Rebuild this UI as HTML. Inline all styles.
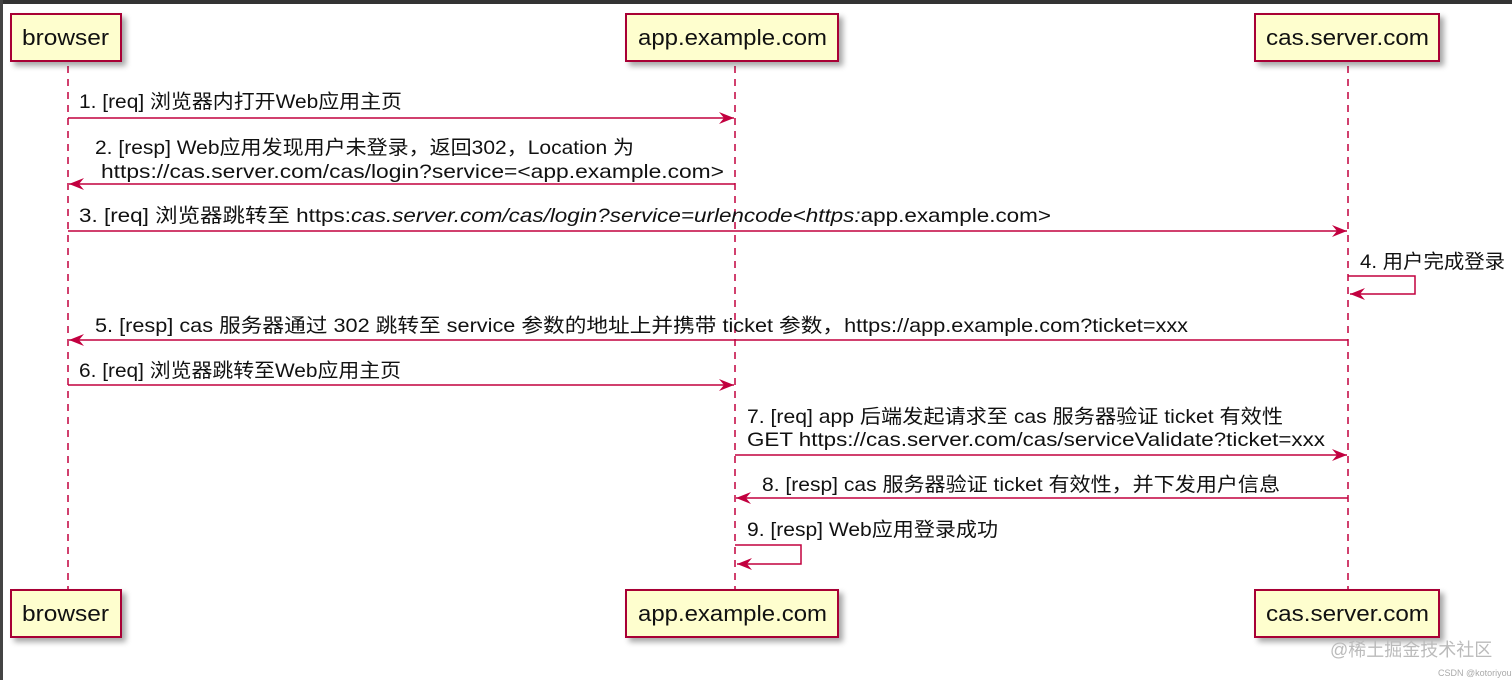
<!DOCTYPE html>
<html><head><meta charset="utf-8"><style>
html,body{margin:0;padding:0;background:#fff;}
svg{display:block}
text{font-family:"Liberation Sans","Noto Sans CJK SC",sans-serif;font-size:19.5px;fill:#111;}
.b{font-size:22px}
</style></head><body>
<svg width="1512" height="680" viewBox="0 0 1512 680">
<defs>
<filter id="sh" x="-20%" y="-20%" width="150%" height="160%"><feGaussianBlur in="SourceAlpha" stdDeviation="3"/><feOffset dx="4" dy="4"/><feComponentTransfer><feFuncA type="linear" slope="0.35"/></feComponentTransfer><feMerge><feMergeNode/><feMergeNode in="SourceGraphic"/></feMerge></filter>
<marker id="ar" markerWidth="16" markerHeight="12" refX="15" refY="6" orient="auto" markerUnits="userSpaceOnUse"><path d="M0,0 L15,6 L0,12 L5,6 Z" fill="#C2003F"/></marker>
</defs>
<rect x="0" y="0" width="1512" height="4" fill="#333"/>
<rect x="0" y="0" width="3" height="680" fill="#444"/>
<g stroke="#C2003F" stroke-width="1.5" stroke-dasharray="7,6">
<line x1="68" y1="66" x2="68" y2="590"/>
<line x1="735" y1="66" x2="735" y2="590"/>
<line x1="1348" y1="66" x2="1348" y2="590"/>
</g>
<g fill="#FEFECE" stroke="#A80036" stroke-width="2" filter="url(#sh)">
<rect x="11" y="14" width="110" height="47"/>
<rect x="626" y="14" width="212" height="47"/>
<rect x="1255" y="14" width="184" height="47"/>
<rect x="11" y="590" width="110" height="47"/>
<rect x="626" y="590" width="212" height="47"/>
<rect x="1255" y="590" width="184" height="47"/>
</g>
<text x="22" y="45" class="b" textLength="87" lengthAdjust="spacingAndGlyphs">browser</text>
<text x="638" y="45" class="b" textLength="189" lengthAdjust="spacingAndGlyphs">app.example.com</text>
<text x="1266" y="45" class="b" textLength="163" lengthAdjust="spacingAndGlyphs">cas.server.com</text>
<text x="22" y="621" class="b" textLength="87" lengthAdjust="spacingAndGlyphs">browser</text>
<text x="638" y="621" class="b" textLength="189" lengthAdjust="spacingAndGlyphs">app.example.com</text>
<text x="1266" y="621" class="b" textLength="163" lengthAdjust="spacingAndGlyphs">cas.server.com</text>
<g stroke="#C2003F" stroke-width="1.5" fill="none" marker-end="url(#ar)">
<line x1="68" y1="118" x2="734" y2="118"/>
<line x1="735" y1="184" x2="69" y2="184"/>
<line x1="68" y1="231" x2="1347" y2="231"/>
<polyline points="1348,276 1415,276 1415,294 1350,294"/>
<line x1="1348" y1="340" x2="69" y2="340"/>
<line x1="68" y1="385" x2="734" y2="385"/>
<line x1="735" y1="455" x2="1347" y2="455"/>
<line x1="1348" y1="498" x2="736" y2="498"/>
<polyline points="735,545 801,545 801,564 737,564"/>
</g>
<text x="79" y="108" textLength="323" lengthAdjust="spacingAndGlyphs">1. [req] 浏览器内打开Web应用主页</text>
<text x="95" y="154" textLength="539" lengthAdjust="spacingAndGlyphs">2. [resp] Web应用发现用户未登录，返回302，Location 为</text>
<text x="101" y="178" textLength="623" lengthAdjust="spacingAndGlyphs">https://cas.server.com/cas/login?service=&lt;app.example.com&gt;</text>
<text x="79" y="222" textLength="972" lengthAdjust="spacingAndGlyphs">3. [req] 浏览器跳转至 https:<tspan font-style="italic">cas.server.com/cas/login?service=urlencode&lt;https:</tspan>app.example.com&gt;</text>
<text x="1360" y="268" textLength="145" lengthAdjust="spacingAndGlyphs">4. 用户完成登录</text>
<text x="95" y="332" textLength="1093" lengthAdjust="spacingAndGlyphs">5. [resp] cas 服务器通过 302 跳转至 service 参数的地址上并携带 ticket 参数，https://app.example.com?ticket=xxx</text>
<text x="79" y="377" textLength="322" lengthAdjust="spacingAndGlyphs">6. [req] 浏览器跳转至Web应用主页</text>
<text x="747" y="423" textLength="536" lengthAdjust="spacingAndGlyphs">7. [req] app 后端发起请求至 cas 服务器验证 ticket 有效性</text>
<text x="747" y="446" textLength="578" lengthAdjust="spacingAndGlyphs">GET https://cas.server.com/cas/serviceValidate?ticket=xxx</text>
<text x="762" y="491" textLength="518" lengthAdjust="spacingAndGlyphs">8. [resp] cas 服务器验证 ticket 有效性，并下发用户信息</text>
<text x="747" y="536" textLength="251" lengthAdjust="spacingAndGlyphs">9. [resp] Web应用登录成功</text>
<text x="1330" y="656" style="font-size:18px;fill:#bbb">@稀土掘金技术社区</text>
<text x="1438" y="676" style="font-size:9px;fill:#aaa">CSDN @kotoriyou</text>
</svg>
</body></html>
